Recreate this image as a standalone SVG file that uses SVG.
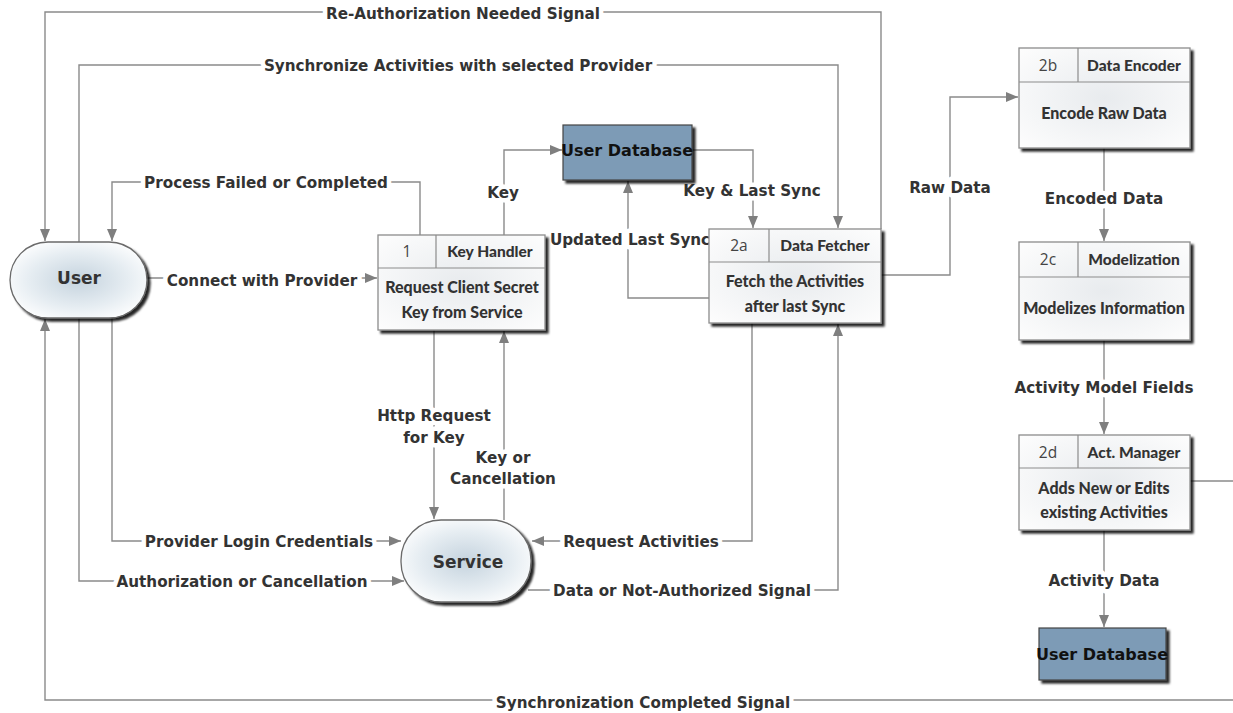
<svg xmlns="http://www.w3.org/2000/svg" width="1233" height="713" viewBox="0 0 1233 713">
  <style>
    .wire { fill: none; stroke: #8a8a8a; stroke-width: 1.4; }
    .lbl { font-family: "DejaVu Sans", Verdana, sans-serif; font-weight: bold; font-size: 15.2px; fill: #333; text-anchor: middle; paint-order: stroke; stroke: #fff; stroke-width: 9px; stroke-linejoin: round; }
    .proc { fill: url(#procFill); stroke: #8c8c8c; stroke-width: 1.3; filter: url(#shadow); }
    .sep { stroke: #8c8c8c; stroke-width: 1.2; fill: none; }
    .num { font-family: "Open Sans", "Noto Sans", sans-serif; font-size: 15.5px; fill: #444; text-anchor: middle; }
    .head { font-family: "Lato", "Open Sans", sans-serif; font-weight: 900; font-size: 15.5px; fill: #333; text-anchor: middle; }
    .body { font-family: "Lato", "Open Sans", sans-serif; font-weight: 900; font-size: 16px; fill: #333; text-anchor: middle; }
    .term { fill: url(#termFill); stroke: #6a6a6a; stroke-width: 1.3; filter: url(#shadow); }
    .termText { font-family: "DejaVu Sans", Verdana, sans-serif; font-weight: bold; font-size: 17px; fill: #333; text-anchor: middle; }
    .store { fill: #7d9bb6; stroke: #444; stroke-width: 1.2; filter: url(#shadow); }
    .storeText { font-family: "DejaVu Sans", Verdana, sans-serif; font-weight: bold; font-size: 16px; fill: #111; text-anchor: middle; }
  </style>
  <defs>
    <marker id="arrow" viewBox="0 0 12 10" refX="12" refY="5" markerWidth="12" markerHeight="10" markerUnits="userSpaceOnUse" orient="auto">
      <path d="M0,0 L12,5 L0,10 z" fill="#7f7f7f"/>
    </marker>
    <radialGradient id="termFill" cx="0.5" cy="0.5" r="0.6">
      <stop offset="0" stop-color="#c5d3de"/>
      <stop offset="0.6" stop-color="#e6edf2"/>
      <stop offset="1" stop-color="#ffffff"/>
    </radialGradient>
    <radialGradient id="procFill" cx="0.5" cy="0.5" r="0.7">
      <stop offset="0" stop-color="#e8ebee"/>
      <stop offset="1" stop-color="#fdfdfd"/>
    </radialGradient>
    <filter id="shadow" x="-10%" y="-10%" width="125%" height="130%">
      <feDropShadow dx="3" dy="3" stdDeviation="1.2" flood-color="#000" flood-opacity="0.85"/>
    </filter>
  </defs>

  <rect width="1233" height="713" fill="#fff"/>

  <!-- connectors -->
  <g id="connectors">
    <path class="wire" d="M881,229 V12 H45 V241" marker-end="url(#arrow)"/>
    <path class="wire" d="M79,242 V65 H838 V228" marker-end="url(#arrow)"/>
    <path class="wire" d="M420,235 V182 H112 V241" marker-end="url(#arrow)"/>
    <path class="wire" d="M504,235 V150 H562" marker-end="url(#arrow)"/>
    <path class="wire" d="M692,150 H753 V228" marker-end="url(#arrow)"/>
    <path class="wire" d="M709,298 H628 V181" marker-end="url(#arrow)"/>
    <path class="wire" d="M147,278 H377" marker-end="url(#arrow)"/>
    <path class="wire" d="M434,330 V519" marker-end="url(#arrow)"/>
    <path class="wire" d="M504,520 V331" marker-end="url(#arrow)"/>
    <path class="wire" d="M112,318 V541 H401" marker-end="url(#arrow)"/>
    <path class="wire" d="M79,318 V581 H404" marker-end="url(#arrow)"/>
    <path class="wire" d="M752,323 V541 H532" marker-end="url(#arrow)"/>
    <path class="wire" d="M528,590 H838 V324" marker-end="url(#arrow)"/>
    <path class="wire" d="M881,275 H950 V97 H1018" marker-end="url(#arrow)"/>
    <path class="wire" d="M1104,148 V241" marker-end="url(#arrow)"/>
    <path class="wire" d="M1104,340 V434" marker-end="url(#arrow)"/>
    <path class="wire" d="M1104,530 V627" marker-end="url(#arrow)"/>
    <path class="wire" d="M1190,481 H1245 V700 H45 V319" marker-end="url(#arrow)"/>

    <text class="lbl" x="463" y="19">Re-Authorization Needed Signal</text>
    <text class="lbl" x="458" y="71">Synchronize Activities with selected Provider</text>
    <text class="lbl" x="266" y="188">Process Failed or Completed</text>
    <text class="lbl" x="503" y="198">Key</text>
    <text class="lbl" x="752" y="196">Key &amp; Last Sync</text>
    <text class="lbl" x="630" y="245">Updated Last Sync</text>
    <text class="lbl" x="262" y="286">Connect with Provider</text>
    <text class="lbl" x="434" y="421">Http Request</text>
    <text class="lbl" x="434" y="443">for Key</text>
    <text class="lbl" x="503" y="463">Key or</text>
    <text class="lbl" x="503" y="484">Cancellation</text>
    <text class="lbl" x="259" y="547">Provider Login Credentials</text>
    <text class="lbl" x="242" y="587">Authorization or Cancellation</text>
    <text class="lbl" x="641" y="547">Request Activities</text>
    <text class="lbl" x="682" y="596">Data or Not-Authorized Signal</text>
    <text class="lbl" x="950" y="193">Raw Data</text>
    <text class="lbl" x="1104" y="204">Encoded Data</text>
    <text class="lbl" x="1104" y="393">Activity Model Fields</text>
    <text class="lbl" x="1104" y="586">Activity Data</text>
    <text class="lbl" x="643" y="708">Synchronization Completed Signal</text>
  </g>

  <!-- external entities -->
  <g id="user">
    <rect class="term" x="10" y="242" width="137" height="76" rx="38" ry="38"/>
    <text class="termText" x="79" y="284">User</text>
  </g>
  <g id="service">
    <rect class="term" x="401" y="520" width="130" height="82" rx="40" ry="40"/>
    <text class="termText" x="468" y="568">Service</text>
  </g>

  <!-- data stores -->
  <g id="user-database-top">
    <rect class="store" x="563" y="125" width="129" height="55"/>
    <text class="storeText" x="627" y="156">User Database</text>
  </g>
  <g id="user-database-bottom">
    <rect class="store" x="1039" y="628" width="127" height="52"/>
    <text class="storeText" x="1102" y="660">User Database</text>
  </g>

  <!-- processes -->
  <g id="key-handler">
    <rect class="proc" x="378" y="235" width="167" height="95"/>
    <path class="sep" d="M378,268 H545 M436,235 V268"/>
    <text class="num" x="407" y="257">1</text>
    <text class="head" x="490" y="257">Key Handler</text>
    <text class="body" x="462" y="293">Request Client Secret</text>
    <text class="body" x="462" y="318">Key from Service</text>
  </g>
  <g id="data-fetcher">
    <rect class="proc" x="709" y="229" width="172" height="94"/>
    <path class="sep" d="M709,262 H881 M769,229 V262"/>
    <text class="num" x="739" y="251">2a</text>
    <text class="head" x="825" y="251">Data Fetcher</text>
    <text class="body" x="795" y="287">Fetch the Activities</text>
    <text class="body" x="795" y="312">after last Sync</text>
  </g>
  <g id="data-encoder">
    <rect class="proc" x="1019" y="48" width="171" height="100"/>
    <path class="sep" d="M1019,82 H1190 M1078,48 V82"/>
    <text class="num" x="1048" y="71">2b</text>
    <text class="head" x="1134" y="71">Data Encoder</text>
    <text class="body" x="1104" y="119">Encode Raw Data</text>
  </g>
  <g id="modelization">
    <rect class="proc" x="1019" y="242" width="171" height="98"/>
    <path class="sep" d="M1019,277 H1190 M1078,242 V277"/>
    <text class="num" x="1048" y="265">2c</text>
    <text class="head" x="1134" y="265">Modelization</text>
    <text class="body" x="1104" y="314">Modelizes Information</text>
  </g>
  <g id="act-manager">
    <rect class="proc" x="1019" y="435" width="171" height="95"/>
    <path class="sep" d="M1019,468 H1190 M1078,435 V468"/>
    <text class="num" x="1048" y="458">2d</text>
    <text class="head" x="1134" y="458">Act. Manager</text>
    <text class="body" x="1104" y="494">Adds New or Edits</text>
    <text class="body" x="1104" y="518">existing Activities</text>
  </g>
</svg>
